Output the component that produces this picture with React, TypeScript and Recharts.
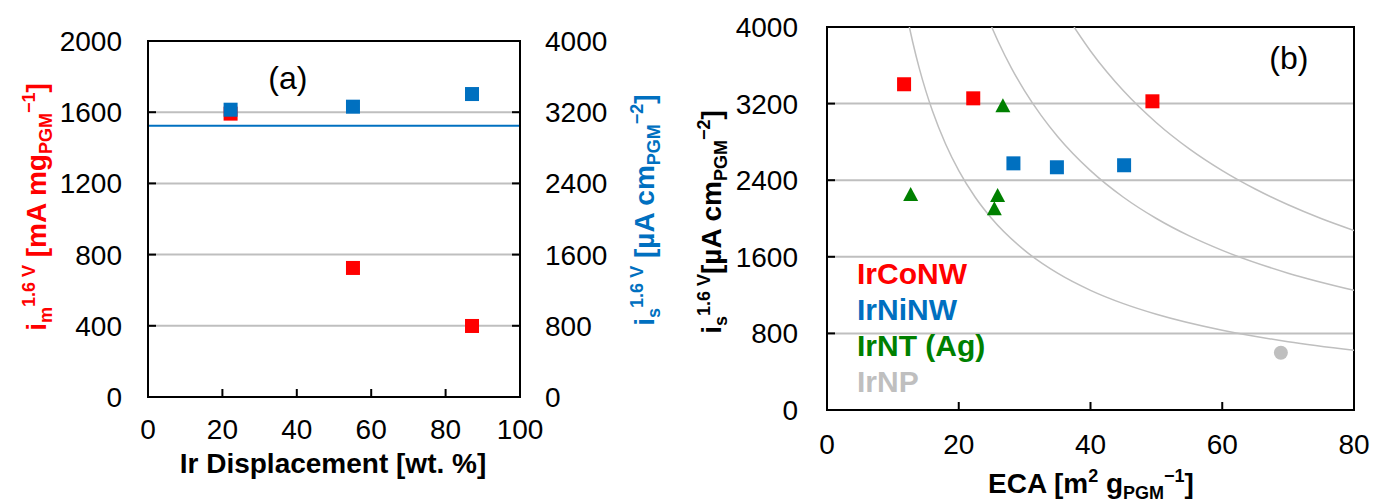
import React from 'react'
import {
  ComposedChart, Scatter, Line, XAxis, YAxis, CartesianGrid,
  ReferenceLine, ReferenceArea, ReferenceDot, Legend,
} from 'recharts'

const FONT = '"Liberation Sans", Arial, sans-serif'
const RED = '#ff0000'
const BLUE = '#0070c0'
const GREEN = '#008000'
const GREY = '#bfbfbf'

// ---- panel (a): activity vs Ir displacement
const displacement = [22.2, 55.1, 87.1]
const massActivity = [1592, 725, 399]
const specActivityA = [3228, 3262, 3404]
const specBaseline = 3048
const dispTicks = [0, 20, 40, 60, 80, 100]
const massTicks = [0, 400, 800, 1200, 1600, 2000]
const specTicks = [0, 800, 1600, 2400, 3200, 4000]

// ---- panel (b): specific activity vs ECA
const coEca = [11.7, 22.2, 49.4]
const coSpec = [3402, 3255, 3224]
const niEca = [28.3, 34.9, 45.1]
const niSpec = [2576, 2535, 2556]
const ntEca = [12.7, 26.7, 25.9, 25.4]
const ntSpec = [2245, 3172, 2235, 2096]
const npEca = [68.9]
const npSpec = [598]
const ecaTicks = [0, 20, 40, 60, 80]

// iso mass-activity guides: 500, 1000, 1500 mA mg-1
const iso500Eca = [12.5, 13, 14, 15, 16, 18, 20, 22.5, 25, 30, 35, 40, 45, 50, 60, 70, 80]
const iso500Spec = [4000, 3846, 3571, 3333, 3125, 2778, 2500, 2222, 2000, 1667, 1429, 1250, 1111, 1000, 833, 714, 625]
const iso1000Eca = [25, 26, 28, 30, 32.5, 35, 40, 45, 50, 55, 60, 70, 80]
const iso1000Spec = [4000, 3846, 3571, 3333, 3077, 2857, 2500, 2222, 2000, 1818, 1667, 1429, 1250]
const iso1500Eca = [37.5, 40, 42.5, 45, 50, 55, 60, 65, 70, 75, 80]
const iso1500Spec = [4000, 3750, 3529, 3333, 3000, 2727, 2500, 2308, 2143, 2000, 1875]

const legendNames = ['IrCoNW', 'IrNiNW', 'IrNT (Ag)', 'IrNP']
const legendColors = [RED, BLUE, GREEN, GREY]

const pts = (xs: number[], ys: number[]) => xs.map((x, i) => ({ x, y: ys[i] }))

type Seg = [string, 'n' | 'b' | 'p']

function rich(segs: Seg[], size: number) {
  const small = Math.round(size * 0.64)
  const off = { n: 0, b: size * 0.22, p: -size * 0.4 }
  let cur = 0
  return segs.map(([t, k], i) => {
    const dy = off[k] - cur
    cur = off[k]
    return <tspan key={i} dy={dy} fontSize={k === 'n' ? size : small}>{t}</tspan>
  })
}

function vTitle(x: number, y: number, segs: Seg[], color: string, size = 28) {
  return (
    <text x={x} y={y} transform={`rotate(-90 ${x} ${y})`} textAnchor="middle" fill={color}
      fontFamily={FONT} fontWeight="bold" fontSize={size} style={{ whiteSpace: 'pre' }}>
      {rich(segs, size)}
    </text>
  )
}

function hTitle(x: number, y: number, segs: Seg[], size = 28) {
  return (
    <text x={x} y={y} textAnchor="middle" fill="#000" fontFamily={FONT} fontWeight="bold"
      fontSize={size} style={{ whiteSpace: 'pre' }}>
      {rich(segs, size)}
    </text>
  )
}

const square = (color: string) => (p: any) =>
  <rect x={p.cx - 7} y={p.cy - 7} width={14} height={14} fill={color} />
const triangle = (p: any) =>
  <polygon points={`${p.cx},${p.cy - 8} ${p.cx + 7.5},${p.cy + 6} ${p.cx - 7.5},${p.cy + 6}`} fill={GREEN} />
const dot = (p: any) => <circle cx={p.cx} cy={p.cy} r={7} fill={GREY} />

const TICK = { fill: '#000', fontSize: 28, fontFamily: FONT }
const AXIS_LINE = { stroke: '#000', strokeWidth: 2 }

function PanelA() {
  return (
    <ComposedChart width={680} height={502} margin={{ top: 41, right: 60, bottom: 45, left: 0 }}>
      <CartesianGrid yAxisId="l" vertical={false} stroke={GREY} strokeWidth={2} />
      <XAxis dataKey="x" type="number" domain={[0, 100]} ticks={dispTicks} interval={0} height={60}
        tickSize={-8} tickMargin={30} axisLine={AXIS_LINE} tickLine={AXIS_LINE} tick={TICK}
        allowDataOverflow
        label={() => hTitle(333, 473, [['Ir Displacement [wt. %]', 'n']])} />
      <YAxis yAxisId="l" dataKey="y" type="number" domain={[0, 2000]} ticks={massTicks} interval={0}
        width={148} tickSize={-8} tickMargin={34} axisLine={AXIS_LINE} tickLine={AXIS_LINE} tick={TICK}
        allowDataOverflow
        label={() => vTitle(46, 207, [['i', 'n'], ['m', 'b'], ['1.6 V', 'p'], [' [mA mg', 'n'], ['PGM', 'b'], ['−1', 'p'], [']', 'n']], RED)} />
      <YAxis yAxisId="r" dataKey="y" type="number" orientation="right" domain={[0, 4000]} ticks={specTicks}
        interval={0} width={100} tickSize={-8} tickMargin={33} axisLine={AXIS_LINE} tickLine={AXIS_LINE}
        tick={TICK} allowDataOverflow
        label={() => vTitle(654, 210, [['i', 'n'], ['s', 'b'], ['1.6 V', 'p'], [' [µA cm', 'n'], ['PGM', 'b'], ['−2', 'p'], [']', 'n']], BLUE)} />
      <ReferenceArea yAxisId="l" x1={0} x2={100} y1={0} y2={2000} fill="none" stroke="#000" strokeWidth={2} />
      <ReferenceLine yAxisId="r" y={specBaseline} stroke={BLUE} strokeWidth={2} />
      <ReferenceDot yAxisId="l" x={37.6} y={1796} r={1} fill="none" stroke="none"
        label={{ value: '(a)', position: 'center', fontSize: 32, fill: '#000', fontFamily: FONT }} />
      <Scatter yAxisId="l" name="i_m" data={pts(displacement, massActivity)} shape={square(RED)} isAnimationActive={false} />
      <Scatter yAxisId="r" name="i_s" data={pts(displacement, specActivityA)} shape={square(BLUE)} isAnimationActive={false} />
    </ComposedChart>
  )
}

function LegendB() {
  return (
    <div style={{ fontFamily: FONT, fontWeight: 'bold', fontSize: 30, lineHeight: '36px', whiteSpace: 'nowrap' }}>
      {legendNames.map((n, i) => <div key={n} style={{ color: legendColors[i] }}>{n}</div>)}
    </div>
  )
}

function PanelB() {
  const guide = { stroke: GREY, strokeWidth: 1.5, dot: false, isAnimationActive: false, type: 'monotone' as const, legendType: 'none' as const }
  return (
    <ComposedChart width={694} height={502} margin={{ top: 27, right: 20, bottom: 32, left: 0 }}>
      <CartesianGrid vertical={false} stroke={GREY} strokeWidth={2} />
      <XAxis dataKey="x" type="number" domain={[0, 80]} ticks={ecaTicks} interval={0} height={60}
        tickSize={-8} tickMargin={32} axisLine={AXIS_LINE} tickLine={AXIS_LINE} tick={TICK}
        allowDataOverflow
        label={() => hTitle(411, 493, [['ECA [m', 'n'], ['2', 'p'], [' g', 'n'], ['PGM', 'b'], ['−1', 'p'], [']', 'n']])} />
      <YAxis dataKey="y" type="number" domain={[0, 4000]} ticks={specTicks} interval={0}
        width={147} tickSize={-8} tickMargin={37} axisLine={AXIS_LINE} tickLine={AXIS_LINE} tick={TICK}
        allowDataOverflow
        label={() => vTitle(41, 222, [['i', 'n'], ['s', 'b'], ['1.6 V', 'p'], ['[µA cm', 'n'], ['PGM', 'b'], ['−2', 'p'], [']', 'n']], '#000')} />
      <Line data={pts(iso500Eca, iso500Spec)} dataKey="y" {...guide} />
      <Line data={pts(iso1000Eca, iso1000Spec)} dataKey="y" {...guide} />
      <Line data={pts(iso1500Eca, iso1500Spec)} dataKey="y" {...guide} />
      <ReferenceArea x1={0} x2={80} y1={0} y2={4000} fill="none" stroke="#000" strokeWidth={2} />
      <ReferenceDot x={70.1} y={3681} r={1} fill="none" stroke="none"
        label={{ value: '(b)', position: 'center', fontSize: 32, fill: '#000', fontFamily: FONT }} />
      <Scatter name="IrCoNW" data={pts(coEca, coSpec)} shape={square(RED)} isAnimationActive={false} />
      <Scatter name="IrNiNW" data={pts(niEca, niSpec)} shape={square(BLUE)} isAnimationActive={false} />
      <Scatter name="IrNT (Ag)" data={pts(ntEca, ntSpec)} shape={triangle} isAnimationActive={false} />
      <Scatter name="IrNP" data={pts(npEca, npSpec)} shape={dot} isAnimationActive={false} />
      <Legend layout="horizontal" verticalAlign="middle" align="center" content={() => <LegendB />}
        wrapperStyle={{ left: 177, top: 256, width: 'auto', height: 'auto' }} />
    </ComposedChart>
  )
}

export default function App() {
  return (
    <div style={{ position: 'absolute', left: 0, top: 0, width: 1374, height: 502, background: '#fff' }}>
      <div style={{ position: 'absolute', left: 0, top: 0 }}><PanelA /></div>
      <div style={{ position: 'absolute', left: 680, top: 0 }}><PanelB /></div>
    </div>
  )
}
